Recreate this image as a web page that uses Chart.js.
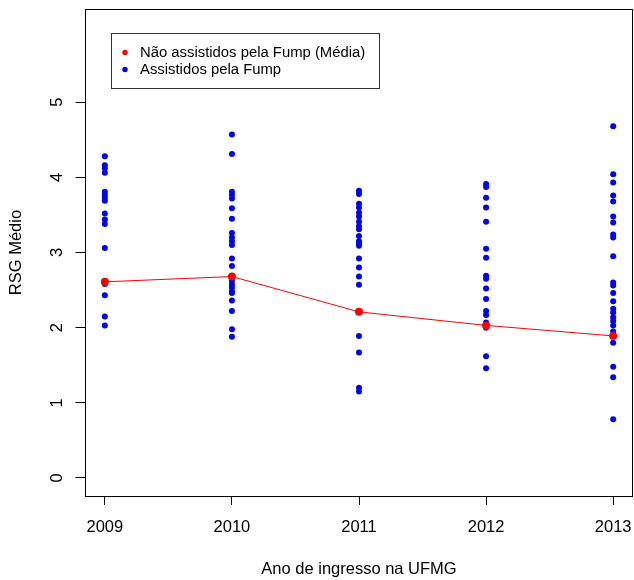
<!DOCTYPE html>
<html>
<head>
<meta charset="utf-8">
<script src="https://cdn.jsdelivr.net/npm/chart.js@4"></script>
<style>
  body { margin: 0; background: #fff; }
  #wrap { width: 634px; height: 580px; }
</style>
</head>
<body>
<div id="wrap"><canvas id="rsgChart" width="634" height="580"></canvas></div>
<script>
// years on the x axis
const anos = [2009, 2010, 2011, 2012, 2013];
const yTicks = [0, 1, 2, 3, 4, 5];

// mean of the non-assisted students, one per year
const mediaNaoAssistidos = [2.61, 2.68, 2.21, 2.03, 1.89];

// assisted students, one list per year
const assist2009 = [4.28, 4.16, 4.12, 4.06, 3.81, 3.77, 3.73, 3.69, 3.52, 3.44, 3.38, 3.06, 2.58, 2.43, 2.15, 2.03];
const assist2010 = [4.57, 4.31, 3.81, 3.77, 3.72, 3.59, 3.45, 3.26, 3.20, 3.15, 3.10, 2.92, 2.82, 2.62, 2.57, 2.53, 2.48, 2.46, 2.36, 2.22, 1.98, 1.88];
const assist2011 = [3.82, 3.78, 3.65, 3.60, 3.53, 3.48, 3.41, 3.35, 3.31, 3.22, 3.15, 3.12, 3.09, 2.92, 2.80, 2.68, 2.57, 1.89, 1.67, 1.20, 1.15];
const assist2012 = [3.91, 3.87, 3.73, 3.60, 3.41, 3.05, 2.93, 2.69, 2.65, 2.52, 2.38, 2.22, 2.17, 2.07, 2.00, 1.62, 1.46];
const assist2013 = [4.68, 4.04, 3.93, 3.76, 3.68, 3.48, 3.40, 3.24, 3.20, 2.95, 2.60, 2.56, 2.46, 2.35, 2.25, 2.20, 2.14, 2.09, 2.03, 1.95, 1.80, 1.48, 1.34, 0.78];

const assistidos = [assist2009, assist2010, assist2011, assist2012, assist2013];

const FONT = "'Liberation Sans', Arial, Helvetica, sans-serif";

var mediaPts = anos.map(function(a, i){ return {x: a, y: mediaNaoAssistidos[i]}; });
var assistPts = [];
anos.forEach(function(a, i){
    assistidos[i].forEach(function(v){ assistPts.push({x: a, y: v}); });
});

// box around the plot + R style legend
const rBox = {
    id: 'rBox',
    afterDraw: function(chart){
        const ctx = chart.ctx;
        const ca = chart.chartArea;
        ctx.save();
        ctx.strokeStyle = '#000';
        ctx.lineWidth = 1;
        ctx.strokeRect(Math.round(ca.left) + 0.5, Math.round(ca.top) + 0.5,
            Math.round(ca.right) - Math.round(ca.left) - 2, Math.round(ca.bottom - ca.top));

        // legend
        ctx.strokeStyle = '#333';
        ctx.strokeRect(111.5, 33.5, 268, 55);
        ctx.font = "14.85px " + FONT;
        ctx.textBaseline = 'middle';
        ctx.textAlign = 'left';
        const rows = [52.5, 69.5];
        chart.data.datasets.forEach(function(ds, i){
            ctx.fillStyle = ds.pointBackgroundColor;
            ctx.beginPath();
            ctx.arc(125, rows[i], 2.7, 0, Math.PI * 2);
            ctx.fill();
            ctx.fillStyle = '#000';
            ctx.fillText(ds.label, 140, rows[i] + 0.5);
        });
        ctx.restore();
    }
};

const rsgChart = new Chart("rsgChart", {
    type: "scatter",
    data: {
        datasets: [{
            label: "Não assistidos pela Fump (Média)",
            data: mediaPts,
            showLine: true,
            borderColor: "#ff0000",
            borderWidth: 1,
            pointBackgroundColor: "#ff0000",
            pointBorderWidth: 0,
            pointRadius: 4
        }, {
            label: "Assistidos pela Fump",
            data: assistPts,
            pointBackgroundColor: "#0000ff",
            pointBorderWidth: 0,
            pointRadius: 3
        }]
    },
    options: {
        responsive: false,
        animation: false,
        layout: { autoPadding: false, padding: { top: 9, right: 0.5, left: 0, bottom: 0 } },
        plugins: { legend: { display: false }, tooltip: { enabled: false } },
        scales: {
            x: {
                type: 'linear',
                min: 2008.84,
                max: 2013.16,
                afterBuildTicks: function(scale){ scale.ticks = anos.map(function(v){ return {value: v}; }); },
                afterFit: function(scale){
                    scale.height = 84;
                    scale.paddingLeft = 0;
                    scale.paddingRight = 0;
                },
                border: { display: false },
                grid: { drawOnChartArea: false, tickLength: 9, color: '#000' },
                ticks: {
                    padding: 13,
                    color: '#000',
                    maxRotation: 0,
                    font: { family: FONT, size: 16.5 },
                    callback: function(v){ return String(v); }
                },
                title: {
                    display: true,
                    text: "Ano de ingresso na UFMG",
                    color: '#000',
                    font: { family: FONT, size: 16.5 },
                    padding: { top: 0, bottom: 1 }
                }
            },
            y: {
                min: -0.24,
                max: 6.24,
                afterBuildTicks: function(scale){ scale.ticks = yTicks.map(function(v){ return {value: v}; }); },
                afterFit: function(scale){
                    scale.width = 84.5;
                    scale.paddingTop = 0;
                    scale.paddingBottom = 0;
                },
                border: { display: false },
                grid: { drawOnChartArea: false, tickLength: 9, color: '#000' },
                ticks: {
                    padding: 13,
                    color: '#000',
                    minRotation: 90,
                    maxRotation: 90,
                    crossAlign: 'center',
                    font: { family: FONT, size: 16.5 },
                    callback: function(v){ return String(v); }
                },
                title: {
                    display: true,
                    text: "RSG Médio",
                    color: '#000',
                    font: { family: FONT, size: 16.5 },
                    padding: { top: 7, bottom: 0 }
                }
            }
        }
    },
    plugins: [rBox]
});
</script>
</body>
</html>
